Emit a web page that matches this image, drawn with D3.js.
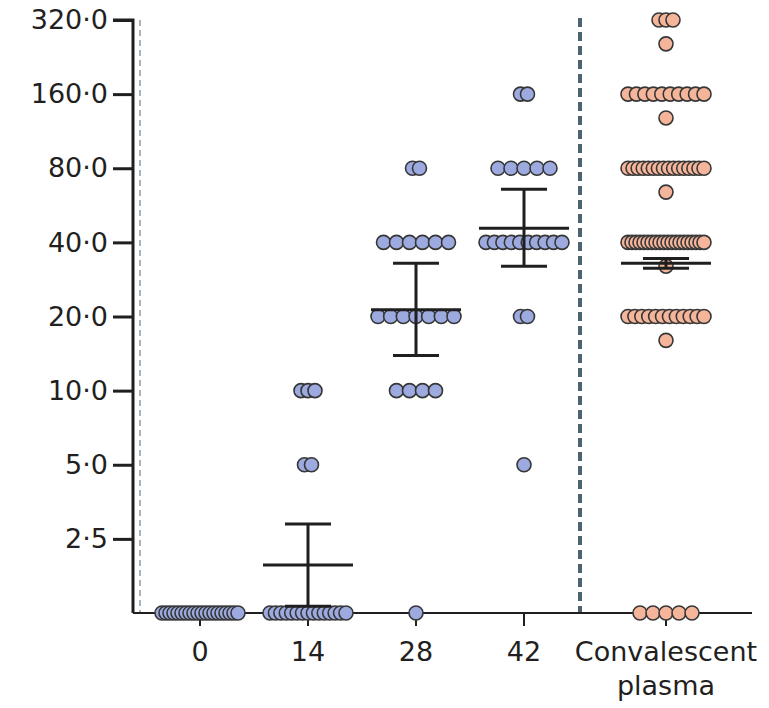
<!DOCTYPE html>
<html>
<head>
<meta charset="utf-8">
<script src="https://cdn.jsdelivr.net/npm/d3@7"></script>
<style>
  html, body { margin: 0; padding: 0; background: #fff; }
  svg { display: block; }
  text { font-family: "DejaVu Sans", "Open Sans", sans-serif; fill: #231f20; }
</style>
</head>
<body>
<svg id="chart" width="769" height="708"></svg>
<script>
// Neutralising antibody titres by day after vaccination, plus convalescent plasma.
// Titres below the detection limit are plotted on the baseline (1.25).
const LLOD = 1.25;

const days = ["0", "14", "28", "42"];
const plasmaLabel = "Convalescent plasma";

// [titre, number of participants] per row
const day0Rows  = [[LLOD, 20]];
const day14Rows = [[10, 3], [5, 2], [LLOD, 15]];
const day28Rows = [[80, 2], [40, 6], [20, 7], [10, 4], [LLOD, 1]];
const day42Rows = [[160, 2], [80, 5], [40, 10], [20, 2], [5, 1]];
const plasmaRows = [[320, 3], [256, 1], [160, 10], [128, 1], [80, 16], [64, 1],
                    [40, 20], [32, 1], [20, 12], [16, 1], [LLOD, 5]];

// Geometric mean titre with 95% CI: [gmt, lower, upper]
const day14Gmt  = [1.96, 1.33, 2.87];
const day28Gmt  = [21.3, 13.9, 32.9];
const day42Gmt  = [45.6, 32.0, 65.8];
const plasmaGmt = [32.9, 31.4, 34.4];

const yTicks = [2.5, 5, 10, 20, 40, 80, 160, 320];

const groups = [
  { key: "0",  rows: day0Rows,  gmt: null,      fill: "#9daae0" },
  { key: "14", rows: day14Rows, gmt: day14Gmt,  fill: "#9daae0" },
  { key: "28", rows: day28Rows, gmt: day28Gmt,  fill: "#9daae0" },
  { key: "42", rows: day42Rows, gmt: day42Gmt,  fill: "#9daae0" },
  { key: plasmaLabel, rows: plasmaRows, gmt: plasmaGmt, fill: "#f4b59b" }
];

const svg = d3.select("#chart");

const axisX = 133, plotTop = 20, plotBottom = 613, divider = 580, plotRight = 752;

const y = d3.scaleLog().base(2).domain([LLOD, 320]).range([plotBottom, plotTop]);
const xDays = d3.scalePoint().domain(days).range([146, 578]).padding(0.5);
const xPlasma = d3.scalePoint().domain([plasmaLabel]).range([divider, plotRight]).padding(0.5);
const xPos = k => k === plasmaLabel ? xPlasma(k) : xDays(k);

// thin dashed guide next to the y axis
svg.append("line")
  .attr("x1", axisX + 7).attr("x2", axisX + 7)
  .attr("y1", plotTop).attr("y2", plotBottom)
  .attr("stroke", "#4d6b80").attr("stroke-width", 1)
  .attr("stroke-dasharray", "6,4");

// divider between vaccine days and convalescent plasma
svg.append("line")
  .attr("x1", divider).attr("x2", divider)
  .attr("y1", plotTop - 2).attr("y2", plotBottom)
  .attr("stroke", "#4c6372").attr("stroke-width", 4)
  .attr("stroke-dasharray", "9,5");

// y axis
const yAxis = d3.axisLeft(y)
  .tickValues(yTicks)
  .tickSize(20)
  .tickPadding(5)
  .tickFormat(d => d3.format(".1f")(d).replace(".", "\u00b7"));
const gy = svg.append("g").attr("transform", `translate(${axisX},0)`).call(yAxis);
gy.select(".domain").attr("d", `M-20,${plotTop}H0V${plotBottom}`).attr("stroke", "#1f1f1f").attr("stroke-width", 3).attr("fill", "none");
gy.selectAll(".tick line").attr("stroke", "#1f1f1f").attr("stroke-width", 3);
gy.selectAll(".tick text").style("font-size", "27px").style("font-family", "DejaVu Sans").attr("fill", "#231f20");

// x axis
const gx = svg.append("g");
gx.append("line")
  .attr("x1", axisX).attr("x2", plotRight)
  .attr("y1", plotBottom).attr("y2", plotBottom)
  .attr("stroke", "#1f1f1f").attr("stroke-width", 2);
gx.selectAll("line.tick").data(groups).join("line")
  .attr("class", "tick")
  .attr("x1", d => xPos(d.key)).attr("x2", d => xPos(d.key))
  .attr("y1", plotBottom).attr("y2", plotBottom + 13)
  .attr("stroke", "#1f1f1f").attr("stroke-width", 2);

// category labels; the plasma label wraps onto two lines
const labelLines = [];
groups.forEach(g => {
  const words = g.key === plasmaLabel ? ["Convalescent", "plasma"] : [g.key];
  words.forEach((w, i) => labelLines.push({ x: xPos(g.key), text: w, line: i }));
});
gx.selectAll("text").data(labelLines).join("text")
  .attr("x", d => d.x)
  .attr("y", d => 661 + d.line * 34)
  .attr("text-anchor", "middle")
  .style("font-size", "27px")
  .text(d => d.text);

// points: each row spread horizontally around the group centre
const maxSpread = 76;
const points = [];
groups.forEach(g => {
  g.rows.forEach(([v, n]) => {
    const step = n <= 3 ? 7 : Math.min(13, maxSpread / (n - 1));
    for (let i = 0; i < n; i++) {
      points.push({ x: xPos(g.key) + (i - (n - 1) / 2) * step, v, fill: g.fill });
    }
  });
});

svg.append("g").selectAll("circle").data(points).join("circle")
  .attr("cx", d => d.x)
  .attr("cy", d => y(d.v))
  .attr("r", 7)
  .attr("fill", d => d.fill)
  .attr("stroke", "#363636")
  .attr("stroke-width", 1.6);

// geometric mean and 95% CI
const gm = svg.append("g").attr("stroke", "#1f1f1f").attr("stroke-width", 3);
groups.filter(g => g.gmt).forEach(g => {
  const cx = xPos(g.key);
  const [m, lo, hi] = g.gmt;
  gm.append("line").attr("x1", cx).attr("x2", cx).attr("y1", y(lo)).attr("y2", y(hi));
  gm.append("line").attr("x1", cx - 45).attr("x2", cx + 45).attr("y1", y(m)).attr("y2", y(m));
  [lo, hi].forEach(v => {
    gm.append("line").attr("x1", cx - 23).attr("x2", cx + 23).attr("y1", y(v)).attr("y2", y(v));
  });
});
</script>
</body>
</html>
